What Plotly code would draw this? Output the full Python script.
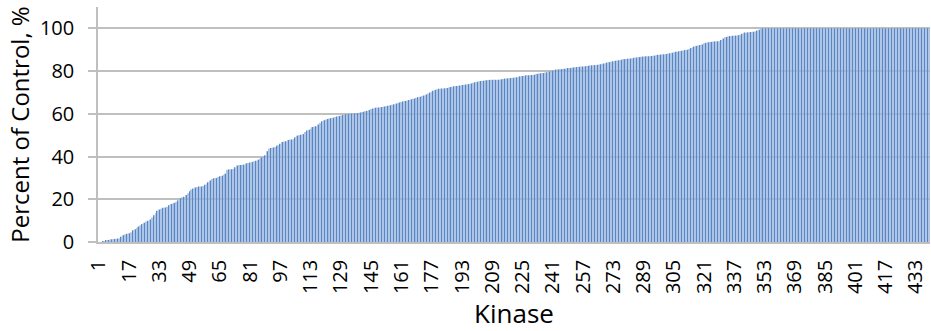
import plotly.graph_objects as go

# Percent of control for each kinase (sorted ascending)
values = [
    0, 0, 0.2, 0.3, 0.5, 0.8, 1.2, 1.3, 1.4, 1.5, 1.6, 1.7, 2.5, 3.2, 3.6, 3.9, 4.1, 4.6, 5.5, 6.0,
    6.6, 7.2, 7.8, 8.4, 9.0, 9.6, 10, 10.5, 11.5, 12.5, 13.5, 14.6, 15.2, 15.6, 16, 16.2, 16.5, 17.2, 17.8, 18,
    18.3, 18.8, 19.5, 20.5, 21, 21.2, 22, 22.8, 23.8, 24.6, 25, 25.5, 25.8, 26, 26, 26.2, 26.8, 27.4, 28, 28.8,
    29.5, 29.8, 30, 30.4, 30.8, 31, 31.5, 32, 33.8, 34, 34, 34.2, 35, 35.8, 36, 36, 36.1, 36.2, 36.8, 37,
    37.2, 37.5, 37.8, 38, 38.5, 39, 39.5, 40, 40.6, 42.5, 43.8, 44, 44.2, 44.5, 45, 45.3, 46, 46.8, 47, 47.2,
    47.8, 48, 48, 48.2, 49, 49.8, 50, 50.2, 50.5, 51.5, 52.2, 52.5, 53, 53.8, 54, 54.2, 55, 55.8, 56.5, 57,
    57.3, 57.6, 57.8, 58, 58.2, 58.5, 58.8, 59, 59.2, 59.4, 59.6, 59.8, 59.9, 60, 60.1, 60.2, 60.3, 60.4, 60.6, 60.8,
    61, 61.2, 61.4, 61.8, 62.2, 62.5, 62.8, 63, 63, 63.1, 63.2, 63.4, 63.6, 63.8, 64, 64.2, 64.5, 64.8, 65, 65.3,
    65.6, 65.8, 66, 66.2, 66.5, 66.8, 67, 67.2, 67.5, 67.8, 68, 68.3, 68.6, 69, 69.5, 70, 70.3, 70.8, 71.2, 71.5,
    71.7, 71.8, 71.9, 72, 72.1, 72.3, 72.5, 72.7, 72.9, 73, 73.1, 73.3, 73.5, 73.6, 73.7, 73.8, 73.9, 74.2, 74.5, 74.8,
    75, 75.2, 75.4, 75.5, 75.6, 75.7, 75.8, 75.9, 76, 76, 76, 76, 76.1, 76.2, 76.3, 76.5, 76.6, 76.7, 76.8, 76.9,
    77, 77.1, 77.3, 77.5, 77.7, 77.8, 78, 78, 78.1, 78.2, 78.3, 78.5, 78.7, 78.9, 79, 79.1, 79.3, 79.5, 79.8, 80,
    80.2, 80.5, 80.7, 80.8, 80.9, 81, 81.1, 81.2, 81.4, 81.5, 81.6, 81.7, 81.8, 81.9, 82, 82.1, 82.2, 82.3, 82.4, 82.5,
    82.6, 82.7, 82.8, 82.9, 83, 83.2, 83.4, 83.6, 83.8, 84, 84.2, 84.4, 84.6, 84.8, 85, 85.1, 85.3, 85.5, 85.6, 85.7,
    85.8, 85.9, 86, 86.2, 86.4, 86.5, 86.6, 86.7, 86.8, 86.9, 87, 87, 87.1, 87.2, 87.3, 87.5, 87.6, 87.7, 87.8, 87.9,
    88, 88.2, 88.4, 88.6, 88.8, 89, 89.1, 89.3, 89.5, 89.6, 89.9, 90, 90.3, 90.8, 91.2, 91.5, 91.8, 92, 92.2, 92.5,
    93, 93.3, 93.5, 93.6, 93.7, 93.8, 93.9, 94, 94, 94.5, 95.2, 95.8, 96, 96.2, 96.4, 96.5, 96.6, 96.7, 96.8, 97,
    97.5, 98, 98, 98.1, 98.2, 98.3, 98.4, 98.5, 99, 99.3, 99.8, 100, 100, 100, 100, 100, 100, 100, 100, 100,
    100, 100, 100, 100, 100, 100, 100, 100, 100, 100, 100, 100, 100, 100, 100, 100, 100, 100, 100, 100,
    100, 100, 100, 100, 100, 100, 100, 100, 100, 100, 100, 100, 100, 100, 100, 100, 100, 100, 100, 100,
    100, 100, 100, 100, 100, 100, 100, 100, 100, 100, 100, 100, 100, 100, 100, 100, 100, 100, 100, 100,
    100, 100, 100, 100, 100, 100, 100, 100, 100, 100, 100, 100, 100, 100, 100, 100, 100, 100, 100, 100,
]
kinase = list(range(1, len(values) + 1))
x_ticks = list(range(1, len(values) + 1, 16))
y_ticks = [0, 20, 40, 60, 80, 100]

FONT = "Open Sans"
GRID = "#BFBFBF"

fig = go.Figure(go.Bar(
    x=kinase, y=values,
    marker=dict(
        color="#A9C0E2",
        line=dict(width=0),
        pattern=dict(shape="|", fgcolor="#5A86C3", bgcolor="rgba(160,188,226,0.75)",
                     size=3, solidity=0.4, fillmode="replace"),
    ),
    hoverinfo="x+y",
))

fig.update_layout(
    width=931, height=331,
    margin=dict(l=98, r=1, t=7, b=89),
    paper_bgcolor="white", plot_bgcolor="white",
    bargap=0.3,
    showlegend=False,
    font=dict(family=FONT, color="#000000"),
)
fig.update_xaxes(
    range=[0.5, len(values) + 0.5],
    tickmode="array", tickvals=x_ticks, ticktext=[str(t) for t in x_ticks],
    tickangle=-90, tickfont=dict(size=20, family=FONT),
    ticklabelstandoff=8,
    showgrid=False, showline=True, linecolor=GRID, linewidth=1.5,
    ticks="", zeroline=False,
    title=dict(text="Kinase", font=dict(size=26, family=FONT), standoff=14),
    automargin=False,
)
fig.update_yaxes(
    range=[0, 110],
    tickmode="array", tickvals=y_ticks,
    tickfont=dict(size=20, family=FONT),
    showgrid=True, gridcolor=GRID, gridwidth=1.5,
    showline=True, linecolor=GRID, linewidth=1.5,
    ticks="outside", ticklen=8, tickcolor=GRID, tickwidth=1.5,
    ticklabelstandoff=10,
    zeroline=False,
    title=dict(text="Percent of Control, %", font=dict(size=24, family=FONT), standoff=4),
    automargin=False,
)

fig.write_html("out.html")
